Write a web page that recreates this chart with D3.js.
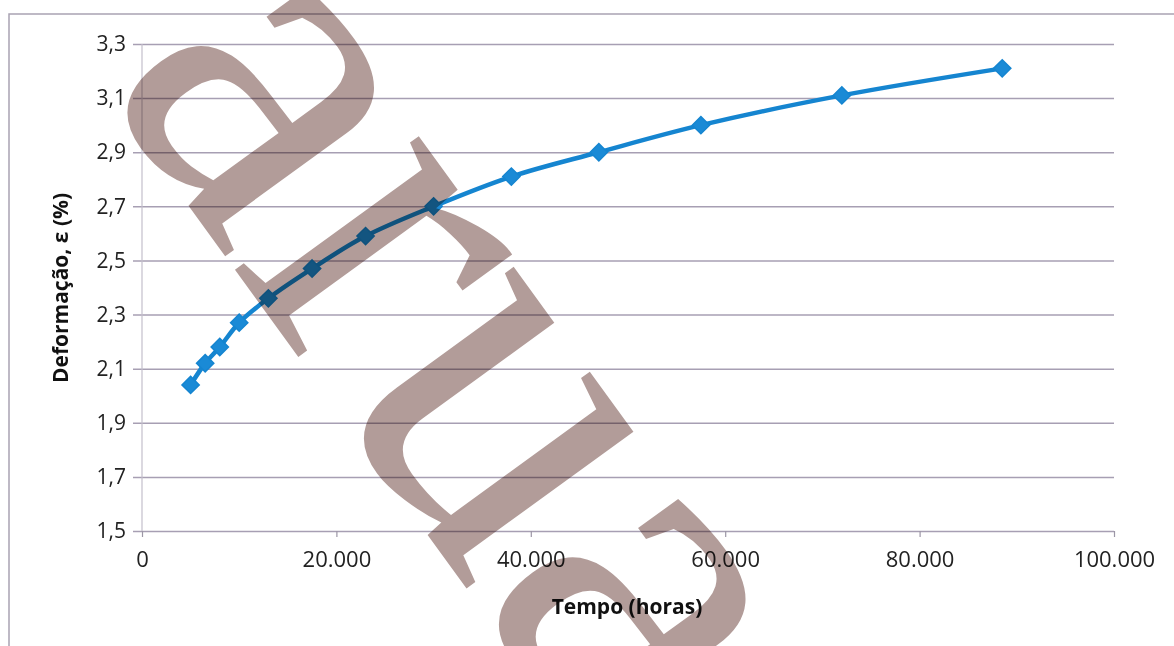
<!DOCTYPE html>
<html>
<head>
<meta charset="utf-8">
<script src="https://cdn.jsdelivr.net/npm/d3@7"></script>
<style>
  body { margin: 0; background: #fff; }
  svg { display: block; }
  text { font-family: "Open Sans", sans-serif; }
</style>
</head>
<body>
<svg width="1174" height="646"></svg>
<script>
// tempo (horas) and deformação (%)
const tempo = [5000, 6500, 8000, 10000, 13000, 17500, 23000, 30000, 38000, 47000, 57500, 72000, 88500];
const deformacao = [2.04, 2.12, 2.18, 2.27, 2.36, 2.47, 2.59, 2.70, 2.81, 2.90, 3.00, 3.11, 3.21];
const xTicks = [0, 20000, 40000, 60000, 80000, 100000];
const yTicks = [1.5, 1.7, 1.9, 2.1, 2.3, 2.5, 2.7, 2.9, 3.1, 3.3];

const svg = d3.select("svg"),
    margin = {left: 142, right: 60, top: 44, bottom: 115},
    width = 1174 - margin.left - margin.right,
    height = 646 - margin.top - margin.bottom;

const x = d3.scaleLinear().domain([0, 100000]).range([margin.left, margin.left + width]);
const y = d3.scaleLinear().domain([1.5, 3.3]).range([margin.top + height, margin.top]);

const gridColor = "#a79fb3";
const fmtY = d => d3.format(".1f")(d).replace(".", ",");
const fmtX = d => d3.format(",d")(d).replace(/,/g, ".");

// chart frame
svg.append("rect")
    .attr("x", 9).attr("y", 14)
    .attr("width", 1200).attr("height", 700)
    .attr("fill", "none")
    .attr("stroke", "#a9a3b3").attr("stroke-width", 1.5);

// y axis with gridlines
const yAxis = svg.append("g")
    .attr("transform", `translate(${margin.left},0)`)
    .call(d3.axisLeft(y).tickValues(yTicks).tickFormat(fmtY).tickSize(-width).tickPadding(16))
    .call(g => g.select(".domain").remove());
yAxis.selectAll(".tick line")
    .attr("x1", -9)
    .attr("stroke", gridColor).attr("stroke-width", 1.5);
yAxis.selectAll(".tick text")
    .style("font-size", "21px").style("fill", "#222");

svg.append("line")
    .attr("x1", margin.left).attr("x2", margin.left)
    .attr("y1", y(3.3)).attr("y2", y(1.5))
    .attr("stroke", "#c3bfcc").attr("stroke-width", 1.2);

// x axis
const xAxis = svg.append("g")
    .attr("transform", `translate(0,${y(1.5)})`)
    .call(d3.axisBottom(x).tickValues(xTicks).tickFormat(fmtX).tickSize(6).tickPadding(14))
    .call(g => g.select(".domain").remove());
xAxis.selectAll(".tick line").attr("stroke", "#9c96a6").attr("stroke-width", 1.2);
xAxis.selectAll(".tick text")
    .style("font-size", "22px").style("fill", "#222");

// axis titles
svg.append("text")
    .attr("x", 627).attr("y", 614)
    .attr("text-anchor", "middle")
    .style("font-size", "21px").style("font-weight", "bold").style("fill", "#111")
    .text("Tempo (horas)");

svg.append("text")
    .attr("transform", "translate(68,288) rotate(-90)")
    .attr("text-anchor", "middle")
    .style("font-size", "21px").style("font-weight", "bold").style("fill", "#111")
    .text("Deformação, ε (%)");

// series
const pts = tempo.map((t, i) => [t, deformacao[i]]);
const line = d3.line()
    .x(d => x(d[0])).y(d => y(d[1]))
    .curve(d3.curveCatmullRom.alpha(0.5));

svg.append("path")
    .datum(pts)
    .attr("d", line)
    .attr("fill", "none")
    .attr("stroke", "#1585d0").attr("stroke-width", 4.5);

svg.selectAll(".pt")
    .data(pts)
    .enter().append("path")
    .attr("class", "pt")
    .attr("transform", d => `translate(${x(d[0])},${y(d[1])})`)
    .attr("d", d3.symbol(d3.symbolDiamond2, 190))
    .attr("fill", "#1a8ad6")
    .attr("stroke", "#1585d0").attr("stroke-width", 1.5);

// watermark
svg.append("text")
    .attr("transform", "translate(100,84) rotate(54)")
    .style("font-family", "'Liberation Serif', serif")
    .style("font-size", "495px")
    .style("mix-blend-mode", "multiply")
    .style("fill", "#b29c99")
    .text("arua");
</script>
</body>
</html>
